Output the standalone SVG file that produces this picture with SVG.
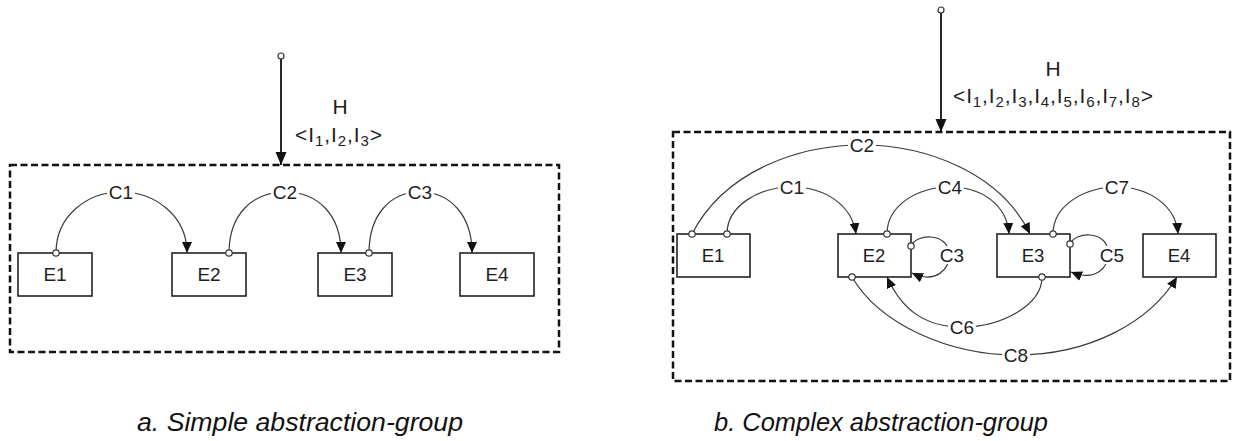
<svg xmlns="http://www.w3.org/2000/svg" width="1233" height="441" viewBox="0 0 1233 441">
<style>
.grp{fill:none;stroke:#111;stroke-width:2.5;stroke-dasharray:7 3.5}
.box{fill:#fff;stroke:#222;stroke-width:1.6}
.etxt{font-family:"Liberation Sans",Arial,sans-serif;font-size:19px;fill:#1e1e1e;text-anchor:middle}
.etxt2{font-family:"Liberation Sans",Arial,sans-serif;font-size:18.5px;fill:#1e1e1e;text-anchor:middle}
.con{fill:none;stroke:#3a3a3a;stroke-width:1.2}
.hline{fill:none;stroke:#111;stroke-width:1.8}
.port{fill:#fff;stroke:#333;stroke-width:1.2}
.bg{fill:#fff}
.lbl{font-family:"Liberation Sans",Arial,sans-serif;font-size:19px;fill:#1e1e1e;text-anchor:middle}
.htxt{font-family:"Liberation Sans",Arial,sans-serif;font-size:21px;fill:#1e1e1e}
.cap{font-family:"Liberation Sans",Arial,sans-serif;font-size:25px;font-style:italic;fill:#111}
</style>
<defs>
<marker id="arr" markerUnits="userSpaceOnUse" markerWidth="12" markerHeight="11" refX="11" refY="5" orient="auto">
<path d="M0,0 L11,5 L0,10 z" fill="#111"/>
</marker>
<marker id="harr" markerUnits="userSpaceOnUse" markerWidth="14" markerHeight="12" refX="13" refY="5.5" orient="auto">
<path d="M0,0 L13,5.5 L0,11 z" fill="#111"/>
</marker>
</defs>

<!-- group frames -->
<rect id="groupA" class="grp" x="10" y="165" width="549" height="187"/>
<rect id="groupB" class="grp" x="673" y="132" width="557" height="249"/>

<!-- left nodes -->
<g id="a-E1"><rect class="box" x="18" y="253" width="74" height="43"/><text class="etxt" x="55" y="281">E1</text></g>
<g id="a-E2"><rect class="box" x="172" y="253" width="74" height="43"/><text class="etxt" x="209" y="281">E2</text></g>
<g id="a-E3"><rect class="box" x="318" y="253" width="74" height="43"/><text class="etxt" x="355" y="281">E3</text></g>
<g id="a-E4"><rect class="box" x="460" y="253" width="74" height="43"/><text class="etxt" x="497" y="281">E4</text></g>

<!-- right nodes -->
<g id="b-E1"><rect class="box" x="677" y="234" width="73" height="43"/><text class="etxt2" x="713" y="262">E1</text></g>
<g id="b-E2"><rect class="box" x="838" y="234" width="73" height="43"/><text class="etxt2" x="874" y="262">E2</text></g>
<g id="b-E3"><rect class="box" x="997" y="234" width="73" height="43"/><text class="etxt2" x="1033" y="262">E3</text></g>
<g id="b-E4"><rect class="box" x="1143" y="234" width="73" height="43"/><text class="etxt2" x="1179" y="262">E4</text></g>

<!-- connectors -->
<g id="connectors">
<!-- H inputs -->
<path class="hline" d="M281,59 L281,165" marker-end="url(#harr)"/>
<circle class="port" cx="281" cy="56" r="3"/>
<path class="hline" d="M941,13 L941,132" marker-end="url(#harr)"/>
<circle class="port" cx="941" cy="10" r="3"/>

<!-- left -->
<path class="con" d="M56,253 C56,215 88,192 121,192 C154,192 187,215 187,253" marker-end="url(#arr)"/>
<path class="con" d="M229,253 C229,215 252,192 285,192 C318,192 341,215 341,253" marker-end="url(#arr)"/>
<path class="con" d="M369,253 C369,215 390,192 420,192 C450,192 472,215 472,253" marker-end="url(#arr)"/>
<circle class="port" cx="56" cy="253" r="3.2"/>
<circle class="port" cx="229" cy="253" r="3.2"/>
<circle class="port" cx="369" cy="253" r="3.2"/>

<!-- right -->
<path class="con" d="M692,234 C725,170 800,145 862,145 C925,145 1000,172 1030,234" marker-end="url(#arr)"/>
<path class="con" d="M727,234 C727,205 760,187 792,187 C825,187 852,205 856,234" marker-end="url(#arr)"/>
<path class="con" d="M887,234 C887,205 918,187 950,187 C982,187 1007,205 1009,234" marker-end="url(#arr)"/>
<path class="con" d="M1053,234 C1053,205 1085,187 1117,187 C1148,187 1176,205 1178,234" marker-end="url(#arr)"/>
<path class="con" d="M911,246 C916,234 946,232 949,252 C951,270 935,284 912,273" marker-end="url(#arr)"/>
<path class="con" d="M1070,244 C1075,232 1105,230 1108,250 C1110,268 1095,282 1071,272" marker-end="url(#arr)"/>
<path class="con" d="M1042,277 C1042,305 1002,327 962,327 C925,327 902,310 887,277" marker-end="url(#arr)"/>
<path class="con" d="M852,277 C880,325 950,355 1016,355 C1090,355 1150,322 1177,277" marker-end="url(#arr)"/>
<circle class="port" cx="692" cy="234" r="3.2"/>
<circle class="port" cx="727" cy="234" r="3.2"/>
<circle class="port" cx="887" cy="234" r="3.2"/>
<circle class="port" cx="1053" cy="234" r="3.2"/>
<circle class="port" cx="911" cy="246" r="3.2"/>
<circle class="port" cx="1070" cy="244" r="3.2"/>
<circle class="port" cx="1042" cy="277" r="3.2"/>
<circle class="port" cx="852" cy="277" r="3.2"/>

<!-- labels -->
<rect class="bg" x="107" y="184" width="28" height="16"/><text class="lbl" x="121" y="199">C1</text>
<rect class="bg" x="271" y="184" width="28" height="16"/><text class="lbl" x="285" y="199">C2</text>
<rect class="bg" x="406" y="184" width="28" height="16"/><text class="lbl" x="420" y="199">C3</text>
<rect class="bg" x="848" y="137" width="28" height="16"/><text class="lbl" x="862" y="152">C2</text>
<rect class="bg" x="778" y="179" width="28" height="16"/><text class="lbl" x="792" y="194">C1</text>
<rect class="bg" x="936" y="179" width="28" height="16"/><text class="lbl" x="950" y="194">C4</text>
<rect class="bg" x="1103" y="179" width="28" height="16"/><text class="lbl" x="1117" y="194">C7</text>
<rect class="bg" x="938" y="246" width="28" height="18"/><text class="lbl" x="952" y="262">C3</text>
<rect class="bg" x="1098" y="246" width="28" height="18"/><text class="lbl" x="1112" y="262">C5</text>
<rect class="bg" x="948" y="319" width="28" height="16"/><text class="lbl" x="962" y="334">C6</text>
<rect class="bg" x="1002" y="347" width="28" height="16"/><text class="lbl" x="1016" y="362">C8</text>
</g>

<!-- H labels -->
<g id="a-H">
<text class="htxt" x="340" y="114" text-anchor="middle">H</text>
<text class="htxt" x="295" y="142" font-size="19" textLength="87" lengthAdjust="spacing">&lt;I<tspan dy="4" font-size="15">1</tspan><tspan dy="-4">,I</tspan><tspan dy="4" font-size="15">2</tspan><tspan dy="-4">,I</tspan><tspan dy="4" font-size="15">3</tspan><tspan dy="-4">&gt;</tspan></text>
</g>
<g id="b-H">
<text class="htxt" x="1053" y="76" text-anchor="middle">H</text>
<text class="htxt" x="953" y="103" font-size="19" textLength="200" lengthAdjust="spacing">&lt;I<tspan dy="4" font-size="15">1</tspan><tspan dy="-4">,I</tspan><tspan dy="4" font-size="15">2</tspan><tspan dy="-4">,I</tspan><tspan dy="4" font-size="15">3</tspan><tspan dy="-4">,I</tspan><tspan dy="4" font-size="15">4</tspan><tspan dy="-4">,I</tspan><tspan dy="4" font-size="15">5</tspan><tspan dy="-4">,I</tspan><tspan dy="4" font-size="15">6</tspan><tspan dy="-4">,I</tspan><tspan dy="4" font-size="15">7</tspan><tspan dy="-4">,I</tspan><tspan dy="4" font-size="15">8</tspan><tspan dy="-4">&gt;</tspan></text>
</g>

<!-- captions -->
<text class="cap" x="137" y="431" textLength="326" lengthAdjust="spacingAndGlyphs">a. Simple abstraction-group</text>
<text class="cap" x="714" y="431" textLength="334" lengthAdjust="spacingAndGlyphs">b. Complex abstraction-group</text>
</svg>
